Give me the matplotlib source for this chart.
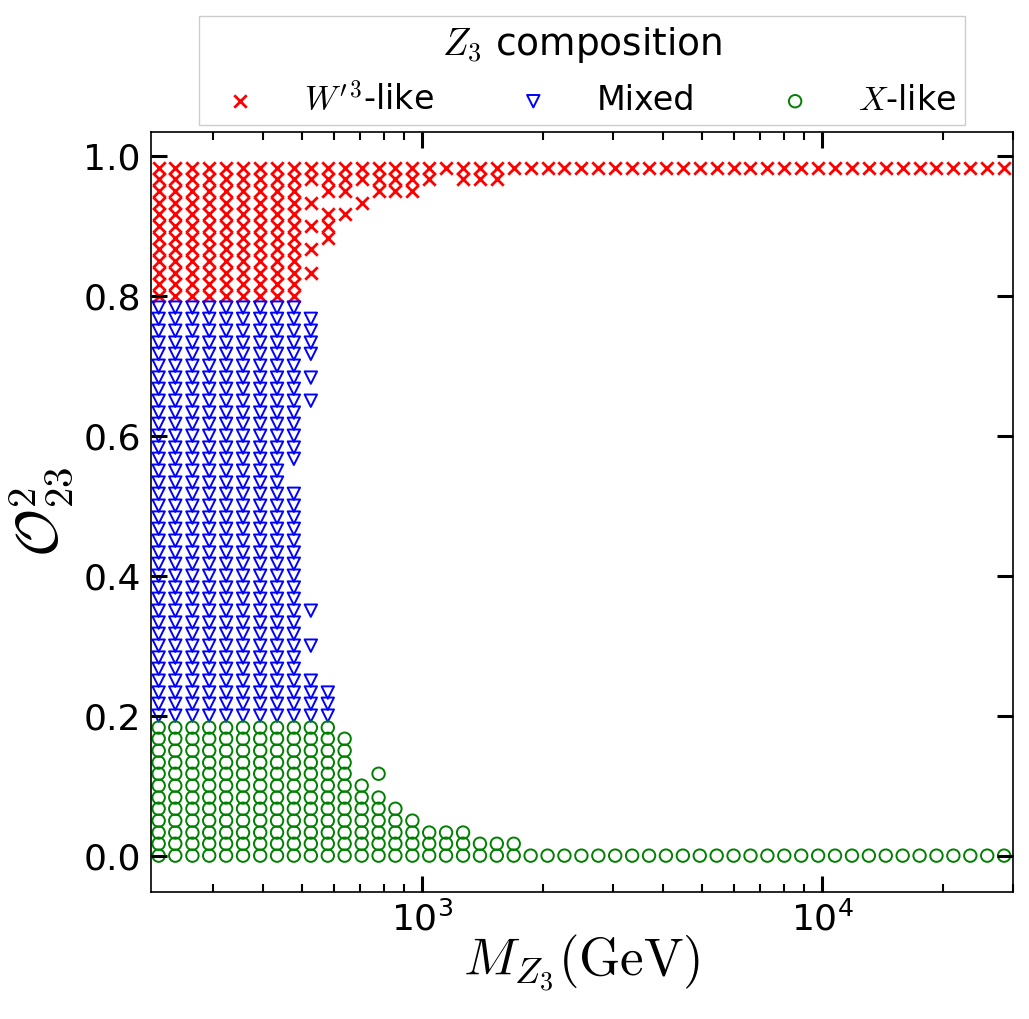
import matplotlib
matplotlib.use('Agg')
from matplotlib import pyplot as plt

plt.rcParams['mathtext.fontset'] = 'cm'

# Z3 mass of every scan column (GeV)
mass = [219, 241, 266, 293, 323, 356, 393, 433, 477, 526,
        580, 639, 705, 777, 856, 944, 1040, 1146, 1264, 1393,
        1535, 1692, 1865, 2056, 2266, 2498, 2754, 3035, 3346, 3688,
        4065, 4481, 4939, 5444, 6001, 6615, 7291, 8037, 8859, 9765,
        10763, 11864, 13077, 14414, 15888, 17513, 19304, 21278, 23454, 25853,
        28497]

# O23^2 levels of the scan
o23 = [0.000, 0.017, 0.033, 0.050, 0.067, 0.083, 0.100, 0.117, 0.133, 0.150,
       0.167, 0.183, 0.200, 0.217, 0.233, 0.250, 0.267, 0.283, 0.300, 0.317,
       0.333, 0.350, 0.367, 0.383, 0.400, 0.417, 0.433, 0.450, 0.467, 0.483,
       0.500, 0.517, 0.533, 0.550, 0.567, 0.583, 0.600, 0.617, 0.633, 0.650,
       0.667, 0.683, 0.700, 0.717, 0.733, 0.750, 0.767, 0.783, 0.800, 0.817,
       0.833, 0.850, 0.867, 0.883, 0.900, 0.917, 0.933, 0.950, 0.967, 0.983]

# which o23 levels give a valid point, for each mass column
full = list(range(60))
present = [full] * 8
present += [
    list(range(0, 32)) + list(range(34, 60)),
    list(range(0, 16)) + [18, 21, 39, 41, 43, 44, 45, 46, 50, 52, 54, 56, 58, 59],
    list(range(0, 15)) + [53, 54, 55, 57, 58, 59],
    list(range(0, 11)) + [55, 57, 58, 59],
    list(range(0, 7)) + [56, 58, 59],
    list(range(0, 6)) + [7, 57, 58, 59],
    list(range(0, 5)) + [57, 58, 59],
    list(range(0, 4)) + [57, 58, 59],
    [0, 1, 2, 58, 59],
    [0, 1, 2, 59],
    [0, 1, 2, 58, 59],
    [0, 1, 58, 59],
    [0, 1, 58, 59],
    [0, 1, 59],
]
present += [[0, 59]] * (len(mass) - len(present))

# composition cuts
x_cut = 0.2
w_cut = 0.8

xw, yw, xm, ym, xx, yx = [], [], [], [], [], []
for i, rows in enumerate(present):
    for r in rows:
        y = o23[r]
        if y < x_cut:
            xx.append(mass[i])
            yx.append(y)
        elif y < w_cut:
            xm.append(mass[i])
            ym.append(y)
        else:
            xw.append(mass[i])
            yw.append(y)

fig = plt.figure(figsize=(10.29, 10.19), dpi=100)
ax = fig.add_axes([0.1463, 0.1246, 0.8382, 0.7459])

ax.scatter(xw, yw, marker='x', c='red', s=80, linewidths=2.0, label=r"$W'^3$-like")
ax.scatter(xm, ym, marker='v', facecolors='none', edgecolors='blue', s=80, linewidths=1.4, label='Mixed')
ax.scatter(xx, yx, marker='o', facecolors='none', edgecolors='green', s=80, linewidths=1.4, label=r'$X$-like')

ax.set_xscale('log')
ax.set_xlim(209, 30000)
ax.set_ylim(-0.052, 1.034)
ax.set_yticks([0.0, 0.2, 0.4, 0.6, 0.8, 1.0])

ax.tick_params(which='both', direction='in', top=True, right=True, labelsize=26, pad=7)
ax.tick_params(which='major', length=11.5, width=2.2)
ax.tick_params(which='minor', length=6, width=1.5)
for s in ax.spines.values():
    s.set_linewidth(1.2)

ax.set_xlabel(r'$M_{Z_3}(\mathrm{GeV})$', fontsize=38, labelpad=-4)
ax.set_ylabel(r'$\mathcal{O}^2_{23}$', fontsize=42, labelpad=6)

ax.legend(title=r'$Z_3$ composition', ncol=3, loc='lower center', bbox_to_anchor=(0.5, 1.0),
          fontsize=24, title_fontsize=27, fancybox=False, edgecolor='0.8', framealpha=1,
          borderaxespad=0.2, handletextpad=0.9, columnspacing=2.0, borderpad=0.25)

fig.savefig('out.png', dpi=100)
